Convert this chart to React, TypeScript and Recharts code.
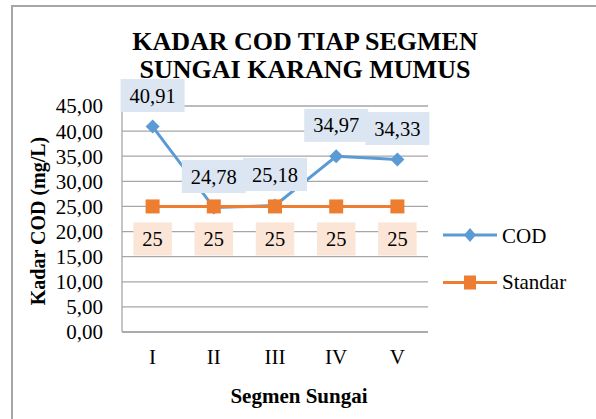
import React from 'react';
import { LineChart, Line, XAxis, YAxis, CartesianGrid, LabelList, Label } from 'recharts';

const categories = ['I', 'II', 'III', 'IV', 'V'];
const codValues = [40.91, 24.78, 25.18, 34.97, 34.33];
const standarValues = [25, 25, 25, 25, 25];
const yTicks = [0, 5, 10, 15, 20, 25, 30, 35, 40, 45];
const titleLines = ['KADAR COD TIAP SEGMEN', 'SUNGAI KARANG MUMUS'];
const seriesNames = ['COD', 'Standar'];

const data = categories.map((c, i) => ({ segmen: c, cod: codValues[i], standar: standarValues[i] }));

const BLUE = '#5b9bd5';
const ORANGE = '#ed7d31';
const FONT = '"Liberation Serif", "Times New Roman", serif';
const GRID = '#a6a6a6';
const serif = { fontFamily: FONT };

const fmtTick = (v: number) => v.toFixed(2).replace('.', ',');
const fmtLabel = (v: number) => String(v).replace('.', ',');

const textWidth = (s: string) => {
  let w = 0;
  for (const ch of s) w += ch === ',' ? 5 : 10.25;
  return w;
};

const getXY = (props: any) => {
  const vb = props.viewBox || {};
  const x = props.x ?? vb.x;
  const y = props.y ?? vb.y;
  return { x, y };
};

const makeLabel = (bg: string, dyCenter: number) => (props: any) => {
  const { x, y } = getXY(props);
  if (x == null || y == null) return null;
  const txt = fmtLabel(props.value);
  const w = textWidth(txt) + 18;
  const h = 33;
  const cy = y + dyCenter;
  return (
    <g key={`lbl-${props.index}-${dyCenter}`}>
      <rect x={x - w / 2} y={cy - h / 2} width={w} height={h} fill={bg} />
      <text x={x} y={cy + 7} textAnchor="middle" style={serif} fontSize={20.5} fill="#000">
        {txt}
      </text>
    </g>
  );
};

const codLabel = makeLabel('#dce6f2', -31);
const stdLabel = makeLabel('#fbe5d6', 32.5);

const diamondDot = (props: any) => {
  const { cx, cy, index } = props;
  const r = 7;
  return (
    <path key={`dd-${index}`} d={`M${cx},${cy - r}L${cx + r},${cy}L${cx},${cy + r}L${cx - r},${cy}Z`} fill={BLUE} />
  );
};

const squareDot = (props: any) => {
  const { cx, cy, index } = props;
  const s = 14;
  return <rect key={`sd-${index}`} x={cx - s / 2} y={cy - s / 2} width={s} height={s} fill={ORANGE} />;
};

export default function App() {
  return (
    <div style={{ position: 'absolute', left: 0, top: 0, width: 596, height: 419, overflow: 'hidden', background: '#fff' }}>
      <div
        style={{
          position: 'absolute',
          left: 11,
          top: 5,
          width: 700,
          height: 600,
          border: '2px solid #a6a6a6',
          boxSizing: 'border-box',
        }}
      />
      <div style={{ position: 'absolute', left: 0, top: 0 }}>
        <LineChart width={596} height={419} data={data} margin={{ top: 106, right: 168, bottom: 27, left: 20 }}>
          <CartesianGrid horizontal vertical={false} stroke={GRID} strokeWidth={1.3} />
          <XAxis
            dataKey="segmen"
            height={60}
            padding={{ left: 30.6, right: 30.6 }}
            axisLine={{ stroke: GRID, strokeWidth: 1.3 }}
            tickLine={false}
            tickSize={0}
            tickMargin={17}
            tick={{ style: serif, fontSize: 21, fill: '#000' }}
          >
            <Label
              content={(p: any) => {
                const vb = p.viewBox || { x: 122, y: 332, width: 306 };
                return (
                  <text x={vb.x + vb.width / 2 + 24} y={403} textAnchor="middle" style={serif} fontSize={21} fontWeight="bold" fill="#000">
                    Segmen Sungai
                  </text>
                );
              }}
            />
          </XAxis>
          <YAxis
            width={102}
            domain={[0, 45]}
            ticks={yTicks}
            interval={0}
            tickFormatter={fmtTick}
            axisLine={{ stroke: GRID, strokeWidth: 1.3 }}
            tickLine={false}
            tickSize={0}
            tickMargin={19}
            tick={{ style: serif, fontSize: 21, fill: '#000' }}
          >
            <Label
              content={(p: any) => {
                const vb = p.viewBox || { x: 20, y: 106, height: 226 };
                const cx = vb.x + 25;
                const cy = vb.y + vb.height / 2 + 2;
                return (
                  <text
                    x={cx}
                    y={cy}
                    transform={`rotate(-90, ${cx}, ${cy})`}
                    textAnchor="middle"
                    style={serif}
                    fontSize={20}
                    fontWeight="bold"
                    fill="#000"
                  >
                    Kadar COD (mg/L)
                  </text>
                );
              }}
            />
          </YAxis>
          <Line
            type="linear"
            dataKey="cod"
            name={seriesNames[0]}
            stroke={BLUE}
            strokeWidth={3}
            dot={diamondDot}
            activeDot={false}
            isAnimationActive={false}
          >
            <LabelList dataKey="cod" content={codLabel} />
          </Line>
          <Line
            type="linear"
            dataKey="standar"
            name={seriesNames[1]}
            stroke={ORANGE}
            strokeWidth={3}
            dot={squareDot}
            activeDot={false}
            isAnimationActive={false}
          >
            <LabelList dataKey="standar" content={stdLabel} />
          </Line>
        </LineChart>
      </div>
      <div
        style={{
          position: 'absolute',
          left: 105,
          top: 27.5,
          width: 400,
          textAlign: 'center',
          fontFamily: FONT,
          fontWeight: 'bold',
          fontSize: 26,
          lineHeight: '28px',
          color: '#000',
        }}
      >
        {titleLines.map((t) => (
          <div key={t}>{t}</div>
        ))}
      </div>
      <svg style={{ position: 'absolute', left: 0, top: 0, pointerEvents: 'none' }} width={596} height={419}>
        <line x1={443} y1={235} x2={497} y2={235} stroke={BLUE} strokeWidth={3} />
        <path d={`M470,228L476,235L470,242L464,235Z`} fill={BLUE} />
        <text x={502} y={242.5} style={serif} fontSize={21} fill="#000">
          {seriesNames[0]}
        </text>
        <line x1={443} y1={282.5} x2={497} y2={282.5} stroke={ORANGE} strokeWidth={3} />
        <rect x={464} y={275.5} width={12} height={14} fill={ORANGE} />
        <text x={502} y={289} style={serif} fontSize={21} fill="#000">
          {seriesNames[1]}
        </text>
      </svg>
    </div>
  );
}
